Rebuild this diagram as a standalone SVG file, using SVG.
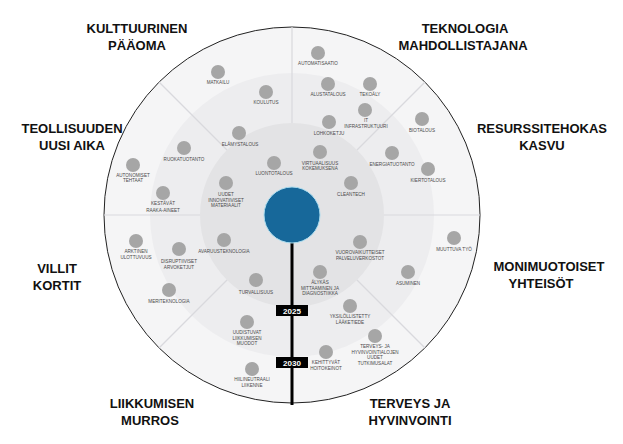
<svg xmlns="http://www.w3.org/2000/svg" width="623" height="444" viewBox="0 0 623 444">
<style>
.sec{font-family:"Liberation Sans",Arial,sans-serif;font-weight:bold;font-size:13px;fill:#111;text-anchor:middle}
.dot{fill:#a6a6a6}
.lb{font-family:"Liberation Sans",Arial,sans-serif;font-size:4.6px;fill:#4a4a4a;text-anchor:middle}
.div{stroke:#d9d9dd;stroke-width:1.2}
.yr{font-family:"Liberation Sans",Arial,sans-serif;font-weight:bold;font-size:8px;fill:#fff;text-anchor:middle}
</style>
<rect width="623" height="444" fill="#fff"/>
<g id="rings">
<circle cx="292" cy="215" r="188" fill="#f5f5f6" stroke="#222" stroke-width="1"/>
<circle cx="292" cy="215" r="142" fill="#ededef"/>
<circle cx="292" cy="215" r="92" fill="#e3e3e5"/>
</g>
<g id="dividers">
<line class="div" x1="292" y1="27" x2="292" y2="123"/>
<line class="div" x1="104" y1="215" x2="200" y2="215"/>
<line class="div" x1="384" y1="215" x2="480" y2="215"/>
<line class="div" x1="159" y1="82" x2="227" y2="150"/>
<line class="div" x1="425" y1="82" x2="357" y2="150"/>
<line class="div" x1="159" y1="348" x2="227" y2="280"/>
<line class="div" x1="425" y1="348" x2="357" y2="280"/>
</g>
<g id="sectors">
<text class="sec" x="137" y="33">KULTTUURINEN</text>
<text class="sec" x="137" y="50">PÄÄOMA</text>
<text class="sec" x="465" y="33">TEKNOLOGIA</text>
<text class="sec" x="463" y="50">MAHDOLLISTAJANA</text>
<text class="sec" x="72" y="133">TEOLLISUUDEN</text>
<text class="sec" x="72" y="150">UUSI AIKA</text>
<text class="sec" x="542" y="133">RESURSSITEHOKAS</text>
<text class="sec" x="542" y="150">KASVU</text>
<text class="sec" x="549" y="271">MONIMUOTOISET</text>
<text class="sec" x="541" y="288">YHTEISÖT</text>
<text class="sec" x="57" y="273">VILLIT</text>
<text class="sec" x="57" y="290">KORTIT</text>
<text class="sec" x="152" y="408">LIIKKUMISEN</text>
<text class="sec" x="150" y="425">MURROS</text>
<text class="sec" x="410" y="408">TERVEYS JA</text>
<text class="sec" x="410" y="425">HYVINVOINTI</text>
</g>
<g id="connectors">
<line x1="292" y1="240" x2="292" y2="405" stroke="#000" stroke-width="3"/>
</g>
<g id="center">
<circle cx="292" cy="215" r="28" fill="#17689a" stroke="#a9dcef" stroke-width="1"/>
</g>
<g id="y2025"><rect x="276" y="305" width="32" height="11" fill="#000"/><text class="yr" x="292" y="313.5">2025</text></g>
<g id="y2030"><rect x="276" y="357" width="32" height="11" fill="#000"/><text class="yr" x="292" y="365.5">2030</text></g>
<g id="n1"><circle class="dot" cx="318" cy="53" r="7"/><text class="lb" x="318" y="64.5">AUTOMATISAATIO</text></g>
<g id="n2"><circle class="dot" cx="218" cy="72" r="7"/><text class="lb" x="218" y="83.5">MATKAILU</text></g>
<g id="n3"><circle class="dot" cx="266" cy="92" r="7"/><text class="lb" x="266" y="104">KOULUTUS</text></g>
<g id="n4"><circle class="dot" cx="328" cy="84" r="7"/><text class="lb" x="328" y="96">ALUSTATALOUS</text></g>
<g id="n5"><circle class="dot" cx="370" cy="84" r="7"/><text class="lb" x="370" y="96">TEKOÄLY</text></g>
<g id="n6"><circle class="dot" cx="365" cy="110" r="7"/><text class="lb" x="366" y="121.5">IT</text><text class="lb" x="366" y="128">INFRASTRUKTUURI</text></g>
<g id="n7"><circle class="dot" cx="329" cy="122" r="7"/><text class="lb" x="329" y="134.5">LOHKOKETJU</text></g>
<g id="n8"><circle class="dot" cx="422" cy="119" r="7"/><text class="lb" x="422" y="132">BIOTALOUS</text></g>
<g id="n9"><circle class="dot" cx="239" cy="133" r="7"/><text class="lb" x="240" y="146">ELÄMYSTALOUS</text></g>
<g id="n10"><circle class="dot" cx="184" cy="148" r="7"/><text class="lb" x="184" y="160.5">RUOKATUOTANTO</text></g>
<g id="n11"><circle class="dot" cx="133" cy="165" r="7"/><text class="lb" x="133" y="176.5">AUTONOMISET</text><text class="lb" x="133" y="182">TEHTAAT</text></g>
<g id="n12"><circle class="dot" cx="274" cy="163" r="7"/><text class="lb" x="274" y="175">LUONTOTALOUS</text></g>
<g id="n13"><circle class="dot" cx="320" cy="152" r="7"/><text class="lb" x="320" y="164.5">VIRTUAALISUUS</text><text class="lb" x="320" y="170">KOKEMUKSENA</text></g>
<g id="n14"><circle class="dot" cx="392" cy="153" r="7"/><text class="lb" x="392" y="165.5">ENERGIATUOTANTO</text></g>
<g id="n15"><circle class="dot" cx="428" cy="169" r="7"/><text class="lb" x="428" y="181.5">KIERTOTALOUS</text></g>
<g id="n16"><circle class="dot" cx="351" cy="183" r="7"/><text class="lb" x="351" y="195.5">CLEANTECH</text></g>
<g id="n17"><circle class="dot" cx="226" cy="183" r="7"/><text class="lb" x="226" y="196">UUDET</text><text class="lb" x="226" y="201.5">INNOVATIIVISET</text><text class="lb" x="226" y="207">MATERIAALIT</text></g>
<g id="n18"><circle class="dot" cx="163" cy="193" r="7"/><text class="lb" x="163" y="205">KESTÄVÄT</text><text class="lb" x="163" y="211.5">RAAKA-AINEET</text></g>
<g id="n19"><circle class="dot" cx="136" cy="241" r="7"/><text class="lb" x="136" y="253">ARKTINEN</text><text class="lb" x="136" y="258.5">ULOTTUVUUS</text></g>
<g id="n20"><circle class="dot" cx="179" cy="249" r="7"/><text class="lb" x="179" y="263">DISRUPTIIVISET</text><text class="lb" x="179" y="268.5">ARVOKETJUT</text></g>
<g id="n21"><circle class="dot" cx="224" cy="240" r="7"/><text class="lb" x="224" y="252.5">AVARUUSTEKNOLOGIA</text></g>
<g id="n22"><circle class="dot" cx="360" cy="242" r="7"/><text class="lb" x="360" y="254">VUOROVAIKUTTEISET</text><text class="lb" x="360" y="259.5">PALVELUVERKOSTOT</text></g>
<g id="n23"><circle class="dot" cx="454" cy="238" r="7"/><text class="lb" x="454" y="250.5">MUUTTUVA TYÖ</text></g>
<g id="n24"><circle class="dot" cx="320" cy="272" r="7"/><text class="lb" x="320" y="284">ÄLYKÄS</text><text class="lb" x="320" y="289.5">MITTAAMINEN JA</text><text class="lb" x="320" y="295">DIAGNOSTIIKKA</text></g>
<g id="n25"><circle class="dot" cx="408" cy="272" r="7"/><text class="lb" x="408" y="285">ASUMINEN</text></g>
<g id="n26"><circle class="dot" cx="256" cy="280" r="7"/><text class="lb" x="256" y="293.5">TURVALLISUUS</text></g>
<g id="n27"><circle class="dot" cx="169" cy="290" r="7"/><text class="lb" x="169" y="302.5">MERITEKNOLOGIA</text></g>
<g id="n28"><circle class="dot" cx="350" cy="306" r="7"/><text class="lb" x="350" y="318">YKSILÖLLISTETTY</text><text class="lb" x="350" y="324">LÄÄKETIEDE</text></g>
<g id="n29"><circle class="dot" cx="247" cy="322" r="7"/><text class="lb" x="247" y="334">UUDISTUVAT</text><text class="lb" x="247" y="339.5">LIIKKUMISEN</text><text class="lb" x="247" y="345">MUODOT</text></g>
<g id="n30"><circle class="dot" cx="375" cy="336" r="7"/><text class="lb" x="375" y="348">TERVEYS- JA</text><text class="lb" x="375" y="353.5">HYVINVOINTIALOJEN</text><text class="lb" x="375" y="359">UUDET</text><text class="lb" x="375" y="364.5">TUTKIMUSALAT</text></g>
<g id="n31"><circle class="dot" cx="326" cy="352" r="7"/><text class="lb" x="326" y="364">KEHITTYVÄT</text><text class="lb" x="326" y="370">HOITOKEINOT</text></g>
<g id="n32"><circle class="dot" cx="252" cy="369" r="7"/><text class="lb" x="252" y="381">HIILINEUTRAALI</text><text class="lb" x="252" y="387">LIIKENNE</text></g>
</svg>
